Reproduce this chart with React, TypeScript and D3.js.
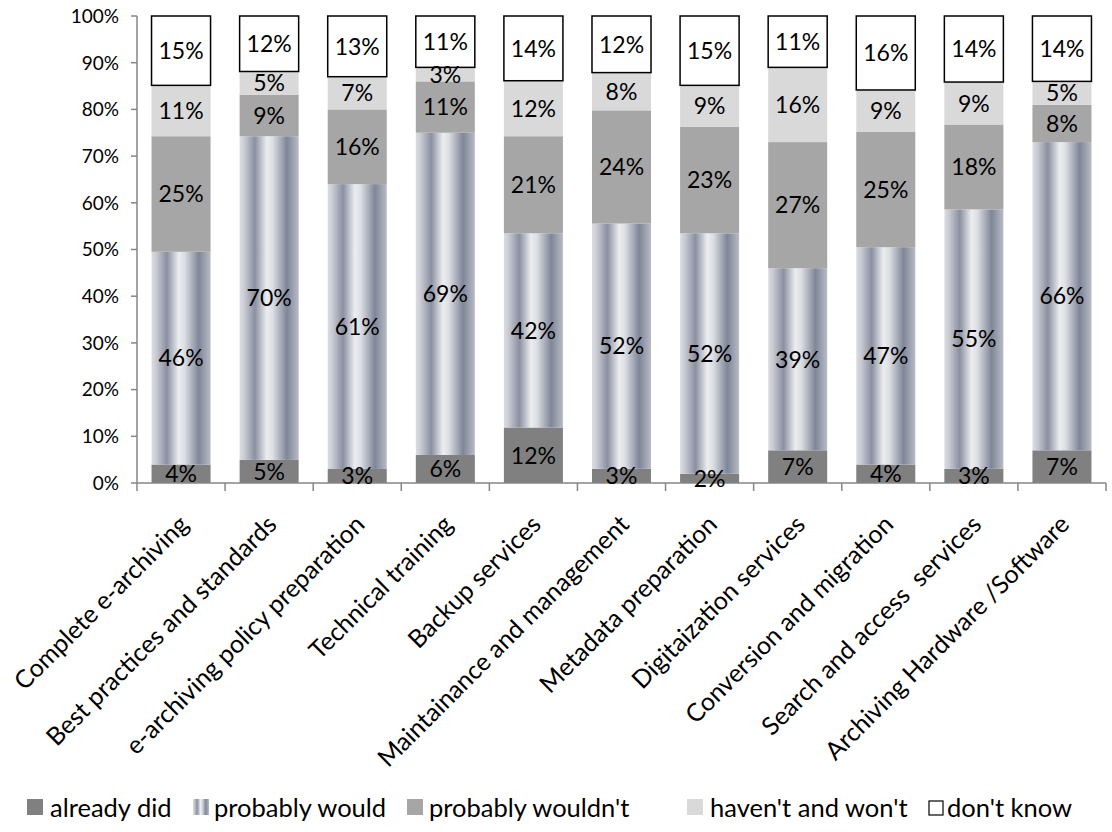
import React from "react";
import * as d3 from "d3";

const categories = [
  "Complete e-archiving",
  "Best practices and standards",
  "e-archiving policy preparation",
  "Technical training",
  "Backup services",
  "Maintainance and management",
  "Metadata preparation",
  "Digitaization services",
  "Conversion and migration",
  "Search and access  services",
  "Archiving Hardware /Software",
];

const seriesNames = ["already did", "probably would", "probably wouldn't", "haven't and won't", "don't know"];

const alreadyDid = [4, 5, 3, 6, 12, 3, 2, 7, 4, 3, 7];
const probablyWould = [46, 70, 61, 69, 42, 52, 52, 39, 47, 55, 66];
const probablyWouldnt = [25, 9, 16, 11, 21, 24, 23, 27, 25, 18, 8];
const haventAndWont = [11, 5, 7, 3, 12, 8, 9, 16, 9, 9, 5];
const dontKnow = [15, 12, 13, 11, 14, 12, 15, 11, 16, 14, 14];

const yTicks = [0, 0.1, 0.2, 0.3, 0.4, 0.5, 0.6, 0.7, 0.8, 0.9, 1];

const W = 1112;
const H = 832;
const FONT = "Lato, 'Open Sans', sans-serif";

const fills = ["#808080", "url(#pwGrad)", "#a6a6a6", "#d9d9d9", "#ffffff"];

export default function App() {
  const series = [alreadyDid, probablyWould, probablyWouldnt, haventAndWont, dontKnow];
  const x = d3.scaleBand<string>().domain(categories).range([137, 1106]).paddingInner(0.33).paddingOuter(0.165);
  const y = d3.scaleLinear().domain([0, 1]).range([483, 16]);

  const rows = categories.map((c, i) => {
    const obj: any = { cat: c };
    seriesNames.forEach((s, k) => (obj[s] = series[k][i]));
    return obj;
  });
  const stack = d3.stack<any>().keys(seriesNames).offset(d3.stackOffsetExpand);
  const stacked = stack(rows);

  const step = x.step();
  const boundaries = d3.range(categories.length + 1).map((i) => 137 + i * step);

  const legendItems = [
    { name: seriesNames[0], mx: 27, tx: 50 },
    { name: seriesNames[1], mx: 193, tx: 214 },
    { name: seriesNames[2], mx: 407, tx: 429 },
    { name: seriesNames[3], mx: 687, tx: 710 },
    { name: seriesNames[4], mx: 929, tx: 947 },
  ];

  return (
    <svg width={W} height={H} style={{ position: "absolute", left: 0, top: 0, display: "block", background: "#fff" }} fontFamily={FONT}>
      <defs>
        <linearGradient id="pwGrad" x1="0" y1="0" x2="1" y2="0">
          <stop offset="0" stopColor="#dcdde2" />
          <stop offset="0.08" stopColor="#c9cbd3" />
          <stop offset="0.26" stopColor="#8a90a0" />
          <stop offset="0.46" stopColor="#ecedf0" />
          <stop offset="0.56" stopColor="#dcdee3" />
          <stop offset="0.8" stopColor="#7f8698" />
          <stop offset="1" stopColor="#b8bbc5" />
        </linearGradient>
      </defs>

      {/* bars */}
      {stacked.map((layer, k) => (
        <g key={layer.key}>
          {layer.map((d, i) => {
            const x0 = x(categories[i])!;
            const y0 = y(d[1]);
            const h = y(d[0]) - y(d[1]);
            return (
              <rect
                key={i}
                x={x0}
                y={y0}
                width={x.bandwidth()}
                height={h}
                fill={fills[k]}
                stroke={k === 4 ? "#000" : "none"}
                strokeWidth={k === 4 ? 1.5 : 0}
              />
            );
          })}
        </g>
      ))}

      {/* axes */}
      <g stroke="#868686" strokeWidth={1.5}>
        <line x1={137} x2={137} y1={16} y2={483} />
        {yTicks.map((t) => (
          <line key={t} x1={131} x2={137} y1={y(t)} y2={y(t)} />
        ))}
        <line x1={137} x2={1106} y1={483} y2={483} />
        {boundaries.map((b, i) => (
          <line key={i} x1={b} x2={b} y1={483} y2={491} />
        ))}
      </g>
      {yTicks.map((t) => (
        <text key={t} x={119} y={y(t)} dy="0.36em" textAnchor="end" fontSize={19} fill="#000">
          {d3.format(".0%")(t)}
        </text>
      ))}

      {/* data labels */}
      {stacked.map((layer, k) => (
        <g key={"l" + layer.key}>
          {layer.map((d, i) => (
            <text
              key={i}
              x={x(categories[i])! + x.bandwidth() / 2}
              y={(y(d[0]) + y(d[1])) / 2}
              dy="0.36em"
              textAnchor="middle"
              fontSize={23}
              fill="#000"
            >
              {series[k][i]}%
            </text>
          ))}
        </g>
      ))}

      {/* category labels */}
      {categories.map((c) => {
        const cx = x(c)! + x.bandwidth() / 2;
        return (
          <text key={c} transform={`translate(${cx + 9},${526}) rotate(-45)`} textAnchor="end" fontSize={25} fill="#000" style={{ whiteSpace: "pre" }}>
            {c}
          </text>
        );
      })}

      {/* legend */}
      {legendItems.map((it, k) => (
        <g key={it.name}>
          <rect
            x={it.mx}
            y={k === 4 ? 801 : 799}
            width={k === 4 ? 14 : 16}
            height={k === 4 ? 14 : 16}
            fill={k === 4 ? "#fff" : fills[k]}
            stroke={k === 4 ? "#000" : "none"}
            strokeWidth={1.2}
          />
          <text x={it.tx} y={817} fontSize={25.5} fill="#000">
            {it.name}
          </text>
        </g>
      ))}
    </svg>
  );
}
